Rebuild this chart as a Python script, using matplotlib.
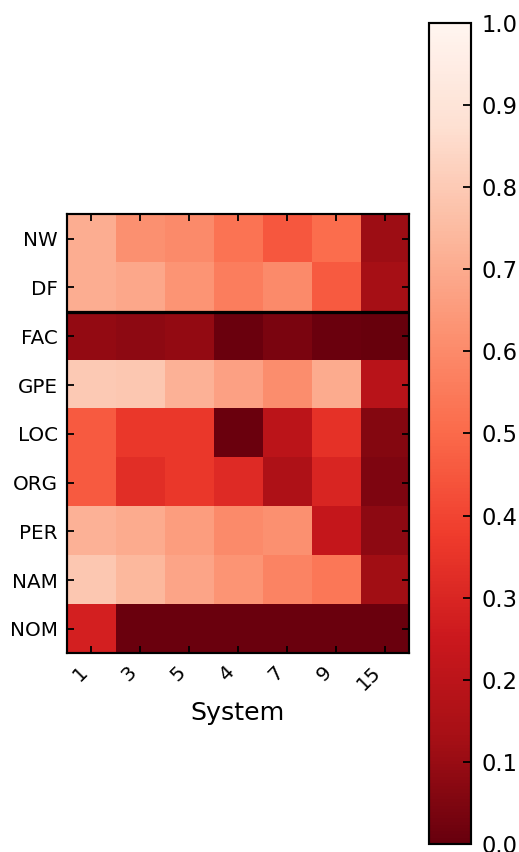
import numpy as np
import matplotlib
matplotlib.use("Agg")
import matplotlib.pyplot as plt

rows = ["NW", "DF", "FAC", "GPE", "LOC", "ORG", "PER", "NAM", "NOM"]
systems = ["1", "3", "5", "4", "7", "9", "15"]

nw  = [0.71, 0.62, 0.60, 0.53, 0.45, 0.51, 0.11]
df  = [0.71, 0.69, 0.63, 0.56, 0.60, 0.46, 0.13]
fac = [0.09, 0.08, 0.09, 0.01, 0.04, 0.01, 0.00]
gpe = [0.80, 0.79, 0.72, 0.67, 0.61, 0.70, 0.19]
loc = [0.46, 0.36, 0.36, 0.01, 0.20, 0.34, 0.06]
org = [0.46, 0.33, 0.36, 0.32, 0.16, 0.30, 0.05]
per = [0.72, 0.70, 0.66, 0.60, 0.62, 0.23, 0.08]
nam = [0.79, 0.74, 0.68, 0.63, 0.58, 0.54, 0.12]
nom = [0.28, 0.01, 0.01, 0.01, 0.01, 0.01, 0.01]

data = np.array([nw, df, fac, gpe, loc, org, per, nam, nom])

plt.rcParams['font.family'] = ['DejaVu Sans']
dpi = 130
fig = plt.figure(figsize=(519 / dpi, 852 / dpi), dpi=dpi, facecolor='white')

ax = fig.add_axes([0.1285, 0.2332, 0.6596, 0.5153])
im = ax.imshow(data, cmap='Reds_r', vmin=0, vmax=1, interpolation='nearest', aspect='auto')
ax.axhline(1.5, color='black', linewidth=1.8)

ax.set_xticks(np.arange(len(systems)))
ax.set_xticklabels(systems, rotation=45, ha='right', fontsize=11)
ax.set_yticks(np.arange(len(rows)))
ax.set_yticklabels(rows, fontsize=11)
ax.tick_params(direction='in', length=4, width=1, top=True, right=True, pad=5)
ax.set_xlabel("System", fontsize=14)
for s in ax.spines.values():
    s.set_linewidth(1.2)

cax = fig.add_axes([0.8266, 0.0094, 0.0809, 0.9636])
cb = fig.colorbar(im, cax=cax, ticks=np.arange(0, 1.01, 0.1))
cb.ax.set_yticklabels([f"{t:.1f}" for t in np.arange(0, 1.01, 0.1)])
cb.ax.tick_params(direction='in', length=4.5, width=1, labelsize=12.5, pad=6)
cb.outline.set_linewidth(1.2)

fig.savefig("out.png", dpi=dpi, facecolor='white')
